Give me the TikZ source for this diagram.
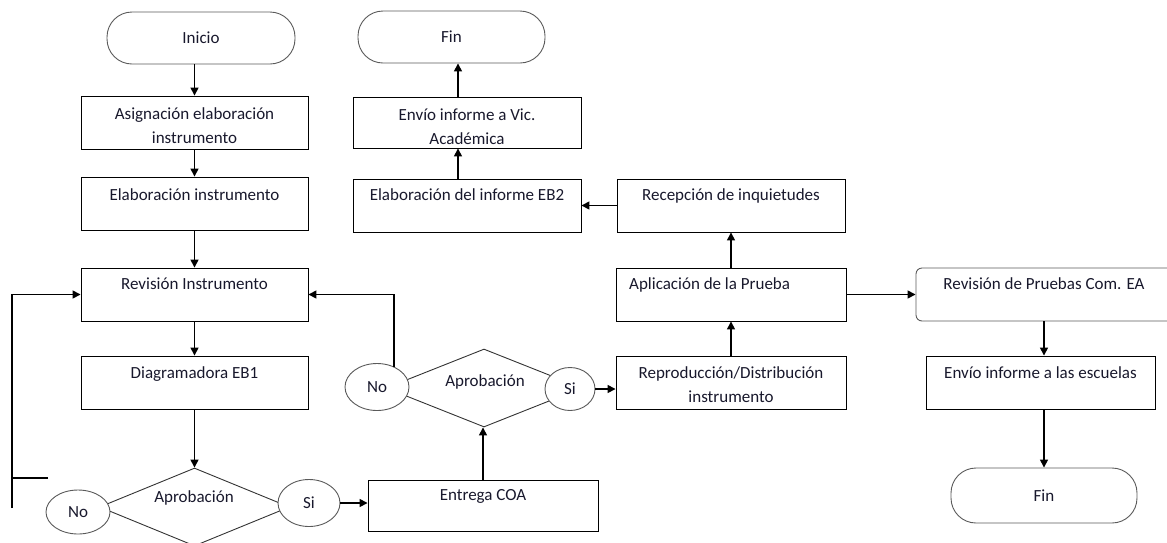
\documentclass[tikz,border=0pt]{standalone}
\usepackage{fontspec}
\setmainfont{Carlito}
\usetikzlibrary{shapes.geometric,arrows.meta}
\definecolor{txtc}{RGB}{24,24,44}
\definecolor{edgec}{RGB}{90,90,90}
\begin{document}
\begin{tikzpicture}[x=1pt,y=-1pt,
  every node/.style={font=\fontsize{17}{24}\selectfont, text=txtc},
  stepbox/.style={draw=black, line width=0.9pt, rectangle, inner sep=0pt},
  termbox/.style={draw=edgec, line width=0.9pt, rectangle, rounded corners=25pt, inner sep=0pt},
  roundbox/.style={draw=edgec, line width=0.9pt, rectangle, rounded corners=6pt, inner sep=0pt},
  oval/.style={draw=edgec, line width=0.9pt, ellipse, fill=white, inner sep=0pt},
  decision/.style={draw=black!80, line width=0.9pt, diamond, inner sep=0pt},
  txt/.style={inner sep=0pt, align=center, text height=11pt, text depth=4pt},
  txttwo/.style={inner sep=0pt, align=center},
  arr/.style={draw=black, line width=1.5pt, -{Triangle[length=8pt,width=8pt]}},
  plain/.style={draw=black, line width=1.5pt}
]
\useasboundingbox (0,0) rectangle (1167,542);

% terminals
\node[termbox, minimum width=188pt, minimum height=52pt] (inicio) at (201,38) {Inicio};
\node[termbox, minimum width=187pt, minimum height=52pt] (fin1) at (451.5,37) {Fin};
\node[termbox, minimum width=186pt, minimum height=55pt] (fin3) at (1044,495.5) {Fin};

% left column
\node[stepbox, minimum width=227pt, minimum height=53pt] (asig) at (194.5,122.5) {};
\node[stepbox, minimum width=227pt, minimum height=53pt] (elab) at (194.5,203.5) {};
\node[stepbox, minimum width=227pt, minimum height=53pt] (rev) at (194.5,294.5) {};
\node[stepbox, minimum width=227pt, minimum height=53pt] (diag) at (194.5,382.5) {};
% middle column
\node[stepbox, minimum width=228pt, minimum height=51pt] (envvic) at (467,122.5) {};
\node[stepbox, minimum width=228pt, minimum height=53pt] (eb2) at (467,205.5) {};
\node[stepbox, minimum width=228pt, minimum height=53pt] (recep) at (731,205.5) {};
\node[stepbox, minimum width=230pt, minimum height=53pt] (aplic) at (731,294.5) {};
\node[stepbox, minimum width=230pt, minimum height=53pt] (repro) at (731,382.5) {};
\node[stepbox, minimum width=230pt, minimum height=51pt] (entrega) at (483,505.5) {};
% right column
\node[roundbox, minimum width=264pt, minimum height=53pt] (revp) at (1048,294.5) {};
\node[stepbox, minimum width=229pt, minimum height=53pt] (envesc) at (1040.5,382.5) {};

% texts
\node[txttwo] (tasig) at (194.5,126) {Asignación elaboración\\instrumento};
\node[txt] (telab) at (194.5,197) {Elaboración instrumento};
\node[txt] (trev) at (194.5,286) {Revisión Instrumento};
\node[txt] (tdiag) at (194.5,375) {Diagramadora EB1};
\node[txttwo] (tenvvic) at (467,127) {Envío informe a Vic.\\Académica};
\node[txt] (teb2) at (467,197) {Elaboración del informe EB2};
\node[txt] (trecep) at (731,197) {Recepción de inquietudes};
\node[txt, anchor=west] (taplic) at (629,286) {Aplicación de la Prueba};
\node[txttwo] (trepro) at (731,385) {Reproducción/Distribución\\instrumento};
\node[txt] (trevp) at (1044,286) {Revisión de Pruebas Com. EA};
\node[txt] (tenvesc) at (1040.5,375) {Envío informe a las escuelas};
\node[txt] (tentrega) at (483,497) {Entrega COA};

% decisions
\node[decision, minimum width=190pt, minimum height=78pt] (dia1) at (194.5,507) {};
\node[decision, minimum width=196pt, minimum height=78pt] (dia2) at (484,388) {};
\node[txt] (tdia1) at (194,499) {Aprobación};
\node[txt] (tdia2) at (485,383) {Aprobación};
\node[oval, minimum width=64pt, minimum height=44pt] (no1) at (78,512) {No};
\node[oval, minimum width=62pt, minimum height=47pt] (si1) at (309,503) {Si};
\node[oval, minimum width=64pt, minimum height=47pt] (no2) at (377,387) {No};
\node[oval, minimum width=50pt, minimum height=43pt] (si2) at (570,389) {Si};

% connectors
\draw[arr] (inicio.south -| asig.north) -- (asig.north);
\draw[arr] (asig.south) -- (elab.north);
\draw[arr] (elab.south) -- (rev.north);
\draw[arr] (rev.south) -- (diag.north);
\draw[arr] (diag.south) -- (dia1.north);
\draw[arr] (si1.east) -- (entrega.west |- si1.east);
\draw[arr] (entrega.north) -- (entrega.north |- dia2.south);
\draw[arr] (no2.50) |- (rev.east);
\draw[arr] (si2.east) -- (repro.west |- si2.east);
\draw[arr] (repro.north) -- (aplic.south);
\draw[arr] (aplic.north) -- (recep.south);
\draw[arr] (aplic.east) -- (revp.west |- aplic.east);
\draw[arr] (recep.west) -- (eb2.east);
\draw[arr] ([xshift=-9pt]eb2.north) -- ([xshift=-9pt]envvic.south);
\draw[arr] ([xshift=-9pt]envvic.north) -- ([xshift=-9pt]envvic.north |- fin1.south);
\draw[arr] (revp.south -| fin3.north) -- (envesc.north -| fin3.north);
\draw[arr] (envesc.south -| fin3.north) -- (fin3.north);

% left feedback line
\coordinate (fb1) at (12,508);
\coordinate (fb2) at (48,478);
\draw[arr] (fb1) |- (rev.west);
\draw[plain] (fb2) -- (fb2 -| fb1);
\end{tikzpicture}
\end{document}
